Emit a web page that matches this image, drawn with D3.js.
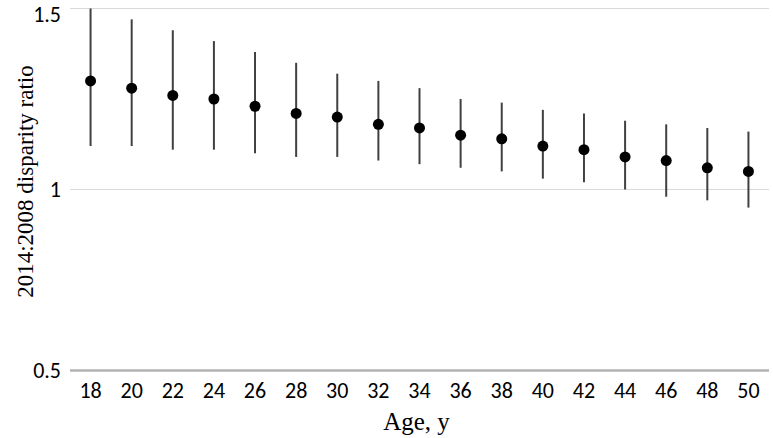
<!DOCTYPE html>
<html>
<head>
<meta charset="utf-8">
<script src="https://cdn.jsdelivr.net/npm/d3@7"></script>
<style>
  body { margin: 0; background: #fff; }
  svg { display: block; }
  .tick-label { font-family: Carlito, "Liberation Sans Narrow", "Liberation Sans", sans-serif; font-size: 22px; fill: #000; }
  .axis-title { font-family: "Liberation Serif", "DejaVu Serif", serif; fill: #000; }
</style>
</head>
<body>
<div id="chart"></div>
<script>
const ages = ["18", "20", "22", "24", "26", "28", "30", "32", "34", "36", "38", "40", "42", "44", "46", "48", "50"];
const ratio = [1.30, 1.28, 1.26, 1.25, 1.23, 1.21, 1.20, 1.18, 1.17, 1.15, 1.14, 1.12, 1.11, 1.09, 1.08, 1.06, 1.05];
const upper = [1.50, 1.47, 1.44, 1.41, 1.38, 1.35, 1.32, 1.30, 1.28, 1.25, 1.24, 1.22, 1.21, 1.19, 1.18, 1.17, 1.16];
const lower = [1.12, 1.12, 1.11, 1.11, 1.10, 1.09, 1.09, 1.08, 1.07, 1.06, 1.05, 1.03, 1.02, 1.00, 0.98, 0.97, 0.95];
const yTicks = [0.5, 1, 1.5];

const width = 773, height = 438;
const margin = {top: 8.5, right: 4, bottom: 67.5, left: 70};

const data = ages.map((a, i) => ({age: a, value: ratio[i], hi: upper[i], lo: lower[i]}));

const x = d3.scaleBand()
    .domain(ages)
    .range([margin.left, width - margin.right]);

const y = d3.scaleLinear()
    .domain([0.5, 1.5])
    .range([height - margin.bottom, margin.top]);

const svg = d3.select("#chart")
    .append("svg")
    .attr("width", width)
    .attr("height", height);

// gridlines
svg.append("g")
    .selectAll("line")
    .data(yTicks.filter(d => d !== 0.5))
    .enter()
    .append("line")
    .attr("x1", margin.left)
    .attr("x2", width - margin.right)
    .attr("y1", d => y(d))
    .attr("y2", d => y(d))
    .attr("stroke", "#d9d9d9")
    .attr("stroke-width", 1);

// baseline at 0.5
svg.append("line")
    .attr("x1", margin.left)
    .attr("x2", width - margin.right)
    .attr("y1", y(0.5))
    .attr("y2", y(0.5))
    .attr("stroke", "#b3b3b3")
    .attr("stroke-width", 2.5);

// y tick labels (top one nudged so it stays inside the frame)
svg.append("g")
    .selectAll("text")
    .data(yTicks)
    .enter()
    .append("text")
    .attr("class", "tick-label")
    .attr("x", margin.left - 9)
    .attr("y", d => Math.max(y(d), 14))
    .attr("dy", "0.35em")
    .attr("text-anchor", "end")
    .text(d => d);

// x tick labels
svg.append("g")
    .selectAll("text")
    .data(ages)
    .enter()
    .append("text")
    .attr("class", "tick-label")
    .attr("x", d => x(d) + x.bandwidth() / 2)
    .attr("y", 398)
    .attr("text-anchor", "middle")
    .text(d => d);

// error bars
svg.append("g")
    .selectAll("line")
    .data(data)
    .enter()
    .append("line")
    .attr("x1", d => x(d.age) + x.bandwidth() / 2)
    .attr("x2", d => x(d.age) + x.bandwidth() / 2)
    .attr("y1", d => y(d.hi))
    .attr("y2", d => y(d.lo))
    .attr("stroke", "#404040")
    .attr("stroke-width", 2);

// points
svg.append("g")
    .selectAll("circle")
    .data(data)
    .enter()
    .append("circle")
    .attr("cx", d => x(d.age) + x.bandwidth() / 2)
    .attr("cy", d => y(d.value))
    .attr("r", 5.5)
    .attr("fill", "#000");

// axis titles
svg.append("text")
    .attr("class", "axis-title")
    .attr("x", (margin.left + width - margin.right) / 2 - 3)
    .attr("y", 430)
    .attr("text-anchor", "middle")
    .style("font-size", "25px")
    .text("Age, y");

svg.append("text")
    .attr("class", "axis-title")
    .attr("transform", "translate(33," + 181.5 + ") rotate(-90)")
    .attr("text-anchor", "middle")
    .style("font-size", "23px")
    .text("2014:2008 disparity ratio");
</script>
</body>
</html>
